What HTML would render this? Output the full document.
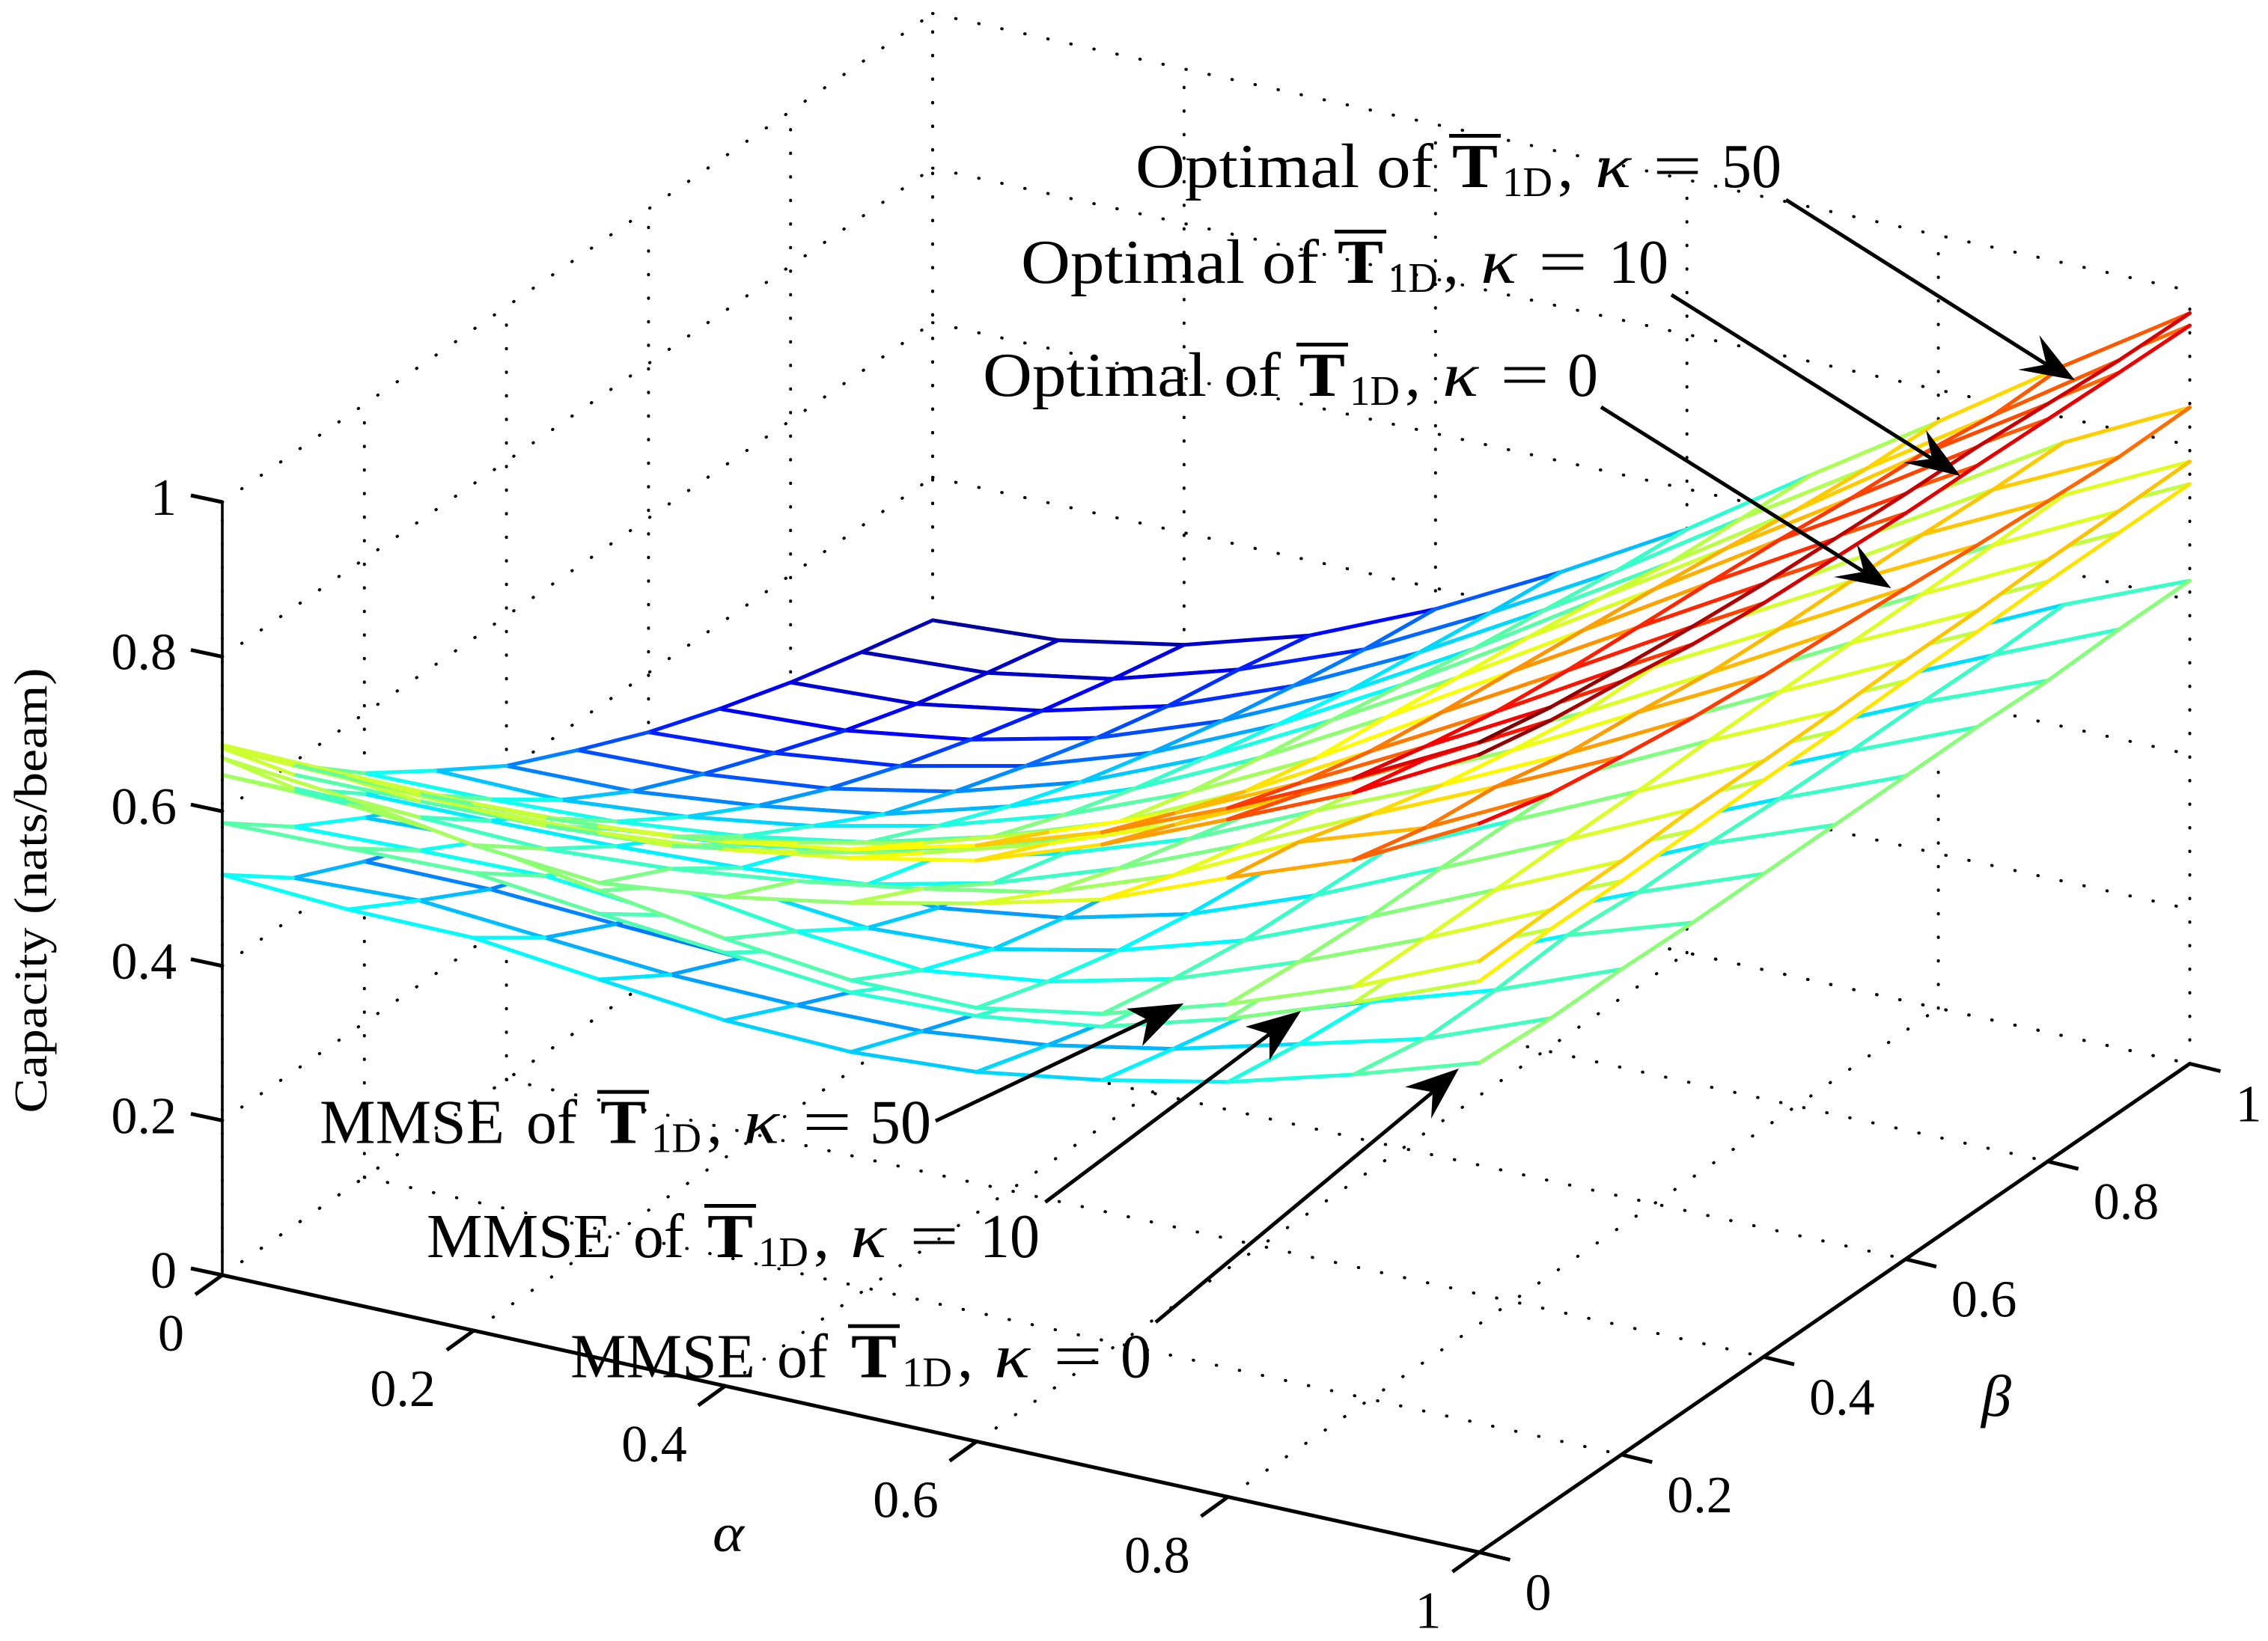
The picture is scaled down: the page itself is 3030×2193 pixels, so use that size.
<!DOCTYPE html>
<html lang="en">
<head>
<meta charset="utf-8">
<title>Capacity surfaces</title>
<style>
html,body{margin:0;padding:0;background:#fff;}
svg{display:block;}
text{font-family:"Liberation Serif","DejaVu Serif",serif;fill:#000;}
.a{font-size:84px;}
.s{font-size:56px;}
.k{font-size:84px;font-style:italic;}
.b{font-size:84px;font-weight:bold;}
.t{font-size:70px;}
</style>
</head>
<body>
<svg id="chart" xmlns="http://www.w3.org/2000/svg" width="3030" height="2193" viewBox="0 0 3030 2193">
<rect x="0" y="0" width="3030" height="2193" fill="#fff"/>
<g id="grid"></g>
<g id="surfaces"></g>
<g id="axes"></g>
<text transform="translate(62,1190) rotate(-90)" text-anchor="middle" font-size="62" textLength="595" lengthAdjust="spacingAndGlyphs">Capacity (nats/beam)</text>
<text x="952" y="2073" font-size="72" font-style="italic" textLength="42" lengthAdjust="spacingAndGlyphs">α</text>
<text x="2647" y="1892" font-size="78" font-style="italic" textLength="40" lengthAdjust="spacingAndGlyphs">β</text>

<g transform="translate(1517,250)">
<text class="a" x="0" y="0" textLength="398" lengthAdjust="spacingAndGlyphs">Optimal of</text>
<text class="b" x="423" y="0" textLength="61" lengthAdjust="spacingAndGlyphs">T</text>
<rect x="419" y="-71" width="69" height="5"/>
<text class="s" x="490" y="12" textLength="67" lengthAdjust="spacingAndGlyphs">1D</text>
<text class="a" x="564" y="0">,</text>
<text class="k" x="614" y="0" textLength="48" lengthAdjust="spacingAndGlyphs">κ</text>
<text class="a" x="691" y="0" textLength="66" lengthAdjust="spacingAndGlyphs">=</text>
<text class="a" x="783" y="0" textLength="80" lengthAdjust="spacingAndGlyphs">50</text>
</g>
<g transform="translate(1364,378)">
<text class="a" x="0" y="0" textLength="398" lengthAdjust="spacingAndGlyphs">Optimal of</text>
<text class="b" x="423" y="0" textLength="61" lengthAdjust="spacingAndGlyphs">T</text>
<rect x="419" y="-71" width="69" height="5"/>
<text class="s" x="490" y="12" textLength="67" lengthAdjust="spacingAndGlyphs">1D</text>
<text class="a" x="564" y="0">,</text>
<text class="k" x="614" y="0" textLength="48" lengthAdjust="spacingAndGlyphs">κ</text>
<text class="a" x="691" y="0" textLength="66" lengthAdjust="spacingAndGlyphs">=</text>
<text class="a" x="785" y="0" textLength="80" lengthAdjust="spacingAndGlyphs">10</text>
</g>
<g transform="translate(1313,529)">
<text class="a" x="0" y="0" textLength="398" lengthAdjust="spacingAndGlyphs">Optimal of</text>
<text class="b" x="423" y="0" textLength="61" lengthAdjust="spacingAndGlyphs">T</text>
<rect x="419" y="-71" width="69" height="5"/>
<text class="s" x="490" y="12" textLength="67" lengthAdjust="spacingAndGlyphs">1D</text>
<text class="a" x="564" y="0">,</text>
<text class="k" x="614" y="0" textLength="48" lengthAdjust="spacingAndGlyphs">κ</text>
<text class="a" x="691" y="0" textLength="66" lengthAdjust="spacingAndGlyphs">=</text>
<text class="a" x="781" y="0" textLength="41" lengthAdjust="spacingAndGlyphs">0</text>
</g>
<g transform="translate(427,1527.7)">
<text class="a" x="0" y="0" textLength="247" lengthAdjust="spacingAndGlyphs">MMSE</text>
<text class="a" x="276" y="0" textLength="68" lengthAdjust="spacingAndGlyphs">of</text>
<text class="b" x="375" y="0" textLength="61" lengthAdjust="spacingAndGlyphs">T</text>
<rect x="371" y="-71" width="69" height="5"/>
<text class="s" x="443" y="12" textLength="67" lengthAdjust="spacingAndGlyphs">1D</text>
<text class="a" x="517" y="0">,</text>
<text class="k" x="566" y="0" textLength="48" lengthAdjust="spacingAndGlyphs">κ</text>
<text class="a" x="645" y="0" textLength="66" lengthAdjust="spacingAndGlyphs">=</text>
<text class="a" x="735" y="0" textLength="82" lengthAdjust="spacingAndGlyphs">50</text>
</g>
<g transform="translate(570,1680)">
<text class="a" x="0" y="0" textLength="247" lengthAdjust="spacingAndGlyphs">MMSE</text>
<text class="a" x="276" y="0" textLength="68" lengthAdjust="spacingAndGlyphs">of</text>
<text class="b" x="375" y="0" textLength="61" lengthAdjust="spacingAndGlyphs">T</text>
<rect x="371" y="-71" width="69" height="5"/>
<text class="s" x="443" y="12" textLength="67" lengthAdjust="spacingAndGlyphs">1D</text>
<text class="a" x="517" y="0">,</text>
<text class="k" x="566" y="0" textLength="48" lengthAdjust="spacingAndGlyphs">κ</text>
<text class="a" x="645" y="0" textLength="66" lengthAdjust="spacingAndGlyphs">=</text>
<text class="a" x="739" y="0" textLength="80" lengthAdjust="spacingAndGlyphs">10</text>
</g>
<g transform="translate(762,1840.7)">
<text class="a" x="0" y="0" textLength="247" lengthAdjust="spacingAndGlyphs">MMSE</text>
<text class="a" x="276" y="0" textLength="68" lengthAdjust="spacingAndGlyphs">of</text>
<text class="b" x="375" y="0" textLength="61" lengthAdjust="spacingAndGlyphs">T</text>
<rect x="371" y="-71" width="69" height="5"/>
<text class="s" x="443" y="12" textLength="67" lengthAdjust="spacingAndGlyphs">1D</text>
<text class="a" x="517" y="0">,</text>
<text class="k" x="566" y="0" textLength="48" lengthAdjust="spacingAndGlyphs">κ</text>
<text class="a" x="645" y="0" textLength="66" lengthAdjust="spacingAndGlyphs">=</text>
<text class="a" x="735" y="0" textLength="41" lengthAdjust="spacingAndGlyphs">0</text>
</g>

<g stroke="#000" stroke-width="5" fill="none">
<g><line x1="2386" y1="267" x2="2734" y2="487"/><polygon fill="#000" stroke="none" points="2772,508 2724.5,448 2734,487 2696,494"/></g>
<g><line x1="2233" y1="394" x2="2581" y2="613"/><polygon fill="#000" stroke="none" points="2619,636 2573,574.5 2581,613 2543,618"/></g>
<g><line x1="2139" y1="544" x2="2490" y2="764"/><polygon fill="#000" stroke="none" points="2526.5,786 2480.5,727 2490,764 2450,771"/></g>
<g><line x1="1250" y1="1498" x2="1533" y2="1363"/><polygon fill="#000" stroke="none" points="1581.4,1341 1505,1348 1533,1363 1526,1398"/></g>
<g><line x1="1396.5" y1="1606.5" x2="1696" y2="1382"/><polygon fill="#000" stroke="none" points="1738,1351 1664,1372 1696,1382 1696,1417"/></g>
<g><line x1="1544" y1="1767" x2="1914" y2="1459.5"/><polygon fill="#000" stroke="none" points="1949,1428 1877,1452.6 1914,1459.5 1912,1495"/></g>
</g>
</svg>
<script>
const alphaValues = [0,0.1,0.2,0.3,0.4,0.5,0.6,0.7,0.8,0.9,1];
const betaValues = [0,0.1,0.2,0.3,0.4,0.5,0.6,0.7,0.8,0.9,1];
const alphaTicks = [0,0.2,0.4,0.6,0.8,1];
const betaTicks = [0,0.2,0.4,0.6,0.8,1];
const capacityTicks = [0,0.2,0.4,0.6,0.8,1];
const alphaTickLabels = ["0","0.2","0.4","0.6","0.8","1"];
const betaTickLabels = ["0","0.2","0.4","0.6","0.8","1"];
const capacityTickLabels = ["0","0.2","0.4","0.6","0.8","1"];

// capacity values: rows = beta, columns = alpha
const mmseKappa0 = [
[.518,.509,.508,.49,.473,.468,.478,.5033,.5368,.5823,.6334],
[.4506,.4574,.445,.433,.4294,.4316,.4495,.4805,.5226,.5653,.6276],
[.4086,.4086,.3994,.3915,.388,.397,.423,.46,.5139,.5652,.628],
[.372,.373,.369,.365,.365,.378,.405,.445,.505,.5726,.625],
[.345,.347,.345,.345,.352,.368,.398,.442,.498,.565,.625],
[.312,.314,.315,.32,.332,.352,.385,.432,.492,.565,.625],
[.282,.285,.29,.298,.315,.34,.375,.425,.49,.56,.625],
[.255,.258,.265,.278,.298,.328,.365,.418,.488,.558,.625],
[.23,.234,.243,.26,.283,.316,.358,.414,.486,.558,.622],
[.208,.214,.225,.243,.27,.305,.35,.41,.484,.556,.625],
[.19,.196,.208,.228,.258,.295,.345,.405,.482,.558,.625]];
const mmseKappa10 = [
[.585,.588,.592,.575,.5604,.545,.5503,.5725,.6185,.675,.739],
[.5168,.522,.525,.51,.5,.495,.515,.553,.612,.673,.743],
[.4653,.472,.473,.465,.452,.458,.492,.54,.603,.672,.742],
[.42,.425,.43,.425,.415,.438,.48,.54,.603,.672,.744],
[.378,.382,.387,.388,.398,.422,.472,.53,.6,.672,.746],
[.34,.345,.35,.358,.378,.412,.462,.525,.598,.672,.746],
[.305,.31,.32,.335,.363,.402,.457,.52,.596,.672,.748],
[.272,.282,.296,.316,.349,.393,.452,.518,.593,.672,.748],
[.248,.258,.272,.3,.335,.384,.447,.515,.593,.672,.75],
[.224,.234,.253,.282,.325,.374,.437,.51,.593,.672,.75],
[.205,.212,.235,.268,.312,.369,.432,.51,.593,.672,.75]];
const mmseKappa50 = [
[.647,.645,.632,.605,.5786,.5607,.561,.589,.6376,.696,.765],
[.564,.559,.5627,.548,.525,.5105,.5317,.571,.629,.695,.768],
[.4954,.497,.4945,.482,.4662,.4746,.5089,.5577,.624,.695,.768],
[.44,.445,.445,.437,.4288,.4518,.4925,.5527,.624,.696,.772],
[.395,.4,.402,.4,.41,.435,.482,.548,.622,.696,.771],
[.355,.36,.365,.375,.395,.43,.48,.545,.62,.698,.772],
[.32,.325,.335,.35,.38,.42,.475,.54,.618,.698,.775],
[.285,.295,.31,.33,.365,.41,.47,.538,.615,.698,.775],
[.26,.27,.285,.315,.35,.4,.465,.535,.615,.698,.778],
[.235,.245,.265,.295,.34,.39,.455,.53,.615,.698,.778],
[.21,.22,.245,.28,.325,.385,.45,.53,.615,.7,.779]];
const optimalKappa0 = [
[.669,.653,.628,.615,.633,.661,.696,.737,.801,.86,.943],
[.567,.565,.56,.57,.59,.616,.647,.705,.784,.838,.918],
[.496,.497,.5,.508,.5225,.56,.615,.682,.756,.828,.903],
[.44,.445,.45,.47,.495,.535,.59,.662,.731,.8075,.89],
[.395,.4,.405,.43,.46,.505,.565,.64,.7127,.798,.881],
[.355,.36,.367,.39,.43,.48,.545,.625,.698,.785,.875],
[.32,.325,.335,.36,.4,.46,.53,.61,.695,.78,.868],
[.285,.295,.31,.33,.375,.44,.515,.6,.69,.778,.86],
[.26,.27,.285,.315,.355,.42,.5,.585,.68,.775,.854],
[.235,.245,.265,.295,.34,.405,.485,.575,.675,.77,.848],
[.21,.22,.245,.28,.325,.39,.47,.56,.67,.768,.849]];
const optimalKappa10 = [
[.682,.678,.675,.68,.694,.719,.7515,.808,.8765,.947,1.032],
[.5845,.586,.59,.6,.628,.662,.71,.77,.845,.9265,1.013],
[.516,.516,.522,.538,.566,.608,.662,.736,.824,.91,1],
[.455,.453,.466,.49,.525,.575,.638,.717,.811,.895,.985],
[.4,.402,.418,.443,.488,.546,.621,.708,.802,.885,.975],
[.356,.361,.378,.41,.457,.524,.606,.696,.792,.88,.97],
[.317,.326,.345,.38,.433,.504,.59,.686,.783,.875,.965],
[.285,.293,.316,.354,.412,.485,.574,.673,.772,.87,.963],
[.256,.264,.291,.332,.394,.472,.561,.657,.76,.865,.96],
[.232,.241,.269,.316,.378,.46,.548,.651,.752,.855,.957],
[.211,.22,.25,.298,.367,.45,.539,.645,.749,.852,.955]];
const optimalKappa50 = [
[.686,.683,.682,.688,.704,.73,.771,.824,.891,.9655,1.048],
[.597,.595,.6,.612,.64,.675,.725,.785,.86,.943,1.03],
[.5228,.525,.532,.549,.577,.62,.675,.75,.838,.925,1.018],
[.463,.461,.475,.499,.535,.585,.65,.73,.825,.915,1.008],
[.406,.409,.426,.451,.497,.556,.632,.72,.815,.908,1],
[.363,.368,.385,.417,.465,.533,.617,.708,.805,.902,.995],
[.323,.332,.351,.387,.44,.512,.6,.697,.795,.895,.99],
[.29,.298,.322,.36,.418,.492,.583,.684,.784,.885,.987],
[.261,.269,.296,.338,.4,.479,.57,.667,.771,.879,.98],
[.237,.246,.274,.322,.384,.467,.557,.661,.762,.866,.973],
[.215,.225,.255,.303,.373,.457,.548,.655,.759,.867,.971]];

const surfaceOrder = [mmseKappa0, mmseKappa10, mmseKappa50, optimalKappa0, optimalKappa10, optimalKappa50];
const surfaceNames = ["mmse-kappa-0","mmse-kappa-10","mmse-kappa-50","optimal-kappa-0","optimal-kappa-10","optimal-kappa-50"];

const SVGNS = "http://www.w3.org/2000/svg";
const colorMin = 0.19, colorMax = 1.048;

function projX(a, b) { return 297 + 1679.5 * a + 949 * b; }
function projY(a, b, z) { return 1704 + 370.5 * a - 653 * b - 1033 * z; }

function jet(v) {
  let t = (v - colorMin) / (colorMax - colorMin);
  t = Math.max(0, Math.min(1, t));
  const r = Math.max(0, Math.min(1, Math.min(4 * t - 1.5, -4 * t + 4.5)));
  const g = Math.max(0, Math.min(1, Math.min(4 * t - 0.5, -4 * t + 3.5)));
  const b = Math.max(0, Math.min(1, Math.min(4 * t + 0.5, -4 * t + 2.5)));
  return "rgb(" + Math.round(r * 255) + "," + Math.round(g * 255) + "," + Math.round(b * 255) + ")";
}

function makeLine(parent, x1, y1, x2, y2, stroke, width) {
  const el = document.createElementNS(SVGNS, "line");
  el.setAttribute("x1", x1.toFixed(1));
  el.setAttribute("y1", y1.toFixed(1));
  el.setAttribute("x2", x2.toFixed(1));
  el.setAttribute("y2", y2.toFixed(1));
  el.setAttribute("stroke", stroke);
  el.setAttribute("stroke-width", width);
  parent.appendChild(el);
  return el;
}

/* dotted grid */
const gridGroup = document.getElementById("grid");
function gridLine(a1, b1, z1, a2, b2, z2) {
  const el = makeLine(gridGroup, projX(a1, b1), projY(a1, b1, z1), projX(a2, b2), projY(a2, b2, z2), "#000", 4);
  el.setAttribute("stroke-dasharray", "0.5 31");
  el.setAttribute("stroke-linecap", "round");
  
  
}
betaTicks.forEach(function (b) {
  gridLine(0, b, 0, 1, b, 0);
  gridLine(0, b, 0, 0, b, 1);
});
alphaTicks.forEach(function (a) {
  gridLine(a, 0, 0, a, 1, 0);
  gridLine(a, 1, 0, a, 1, 1);
});
capacityTicks.forEach(function (z) {
  gridLine(0, 0, z, 0, 1, z);
  gridLine(0, 1, z, 1, 1, z);
});

/* mesh surfaces */
const surfaceRoot = document.getElementById("surfaces");
surfaceOrder.forEach(function (grid, s) {
  const g = document.createElementNS(SVGNS, "g");
  
  
  surfaceRoot.appendChild(g);
  for (let j = betaValues.length - 2; j >= 0; j--) {
    for (let i = 0; i < alphaValues.length - 1; i++) {
      const a0 = alphaValues[i], a1 = alphaValues[i + 1];
      const b0 = betaValues[j], b1 = betaValues[j + 1];
      const corners = [[a0, b0, grid[j][i]], [a1, b0, grid[j][i + 1]], [a1, b1, grid[j + 1][i + 1]], [a0, b1, grid[j + 1][i]]];
      const pts = corners.map(function (c) { return [projX(c[0], c[1]), projY(c[0], c[1], c[2])]; });
      const face = document.createElementNS(SVGNS, "polygon");
      face.setAttribute("points", pts.map(function (p) { return p[0].toFixed(1) + "," + p[1].toFixed(1); }).join(" "));
      face.setAttribute("fill", "#fff");
      
      
      g.appendChild(face);
      const edges = [
        [pts[0], pts[1], grid[j][i]],
        [pts[3], pts[2], grid[j + 1][i]],
        [pts[0], pts[3], grid[j][i]],
        [pts[1], pts[2], grid[j][i + 1]]
      ];
      edges.forEach(function (e) {
        const ln = makeLine(g, e[0][0], e[0][1], e[1][0], e[1][1], jet(e[2]), 5);
        ln.setAttribute("stroke-linecap", "round");
        
        
      });
    }
  }
});

/* axes, ticks, tick labels */
const axesGroup = document.getElementById("axes");
function axisLine(x1, y1, x2, y2, name, w) {
  const el = makeLine(axesGroup, x1, y1, x2, y2, "#000", w);
  
  
}
function tickText(x, y, anchor, str, name) {
  const t = document.createElementNS(SVGNS, "text");
  t.setAttribute("x", x.toFixed(1));
  t.setAttribute("y", y.toFixed(1));
  t.setAttribute("text-anchor", anchor);
  t.setAttribute("class", "t");
  
  
  t.textContent = str;
  axesGroup.appendChild(t);
}
axisLine(projX(0, 0), projY(0, 0, 0), projX(0, 0), projY(0, 0, 1), "z-axis-line", 3.6);
axisLine(projX(0, 0), projY(0, 0, 0), projX(1, 0), projY(1, 0, 0), "alpha-axis-line", 5);
axisLine(projX(1, 0), projY(1, 0, 0), projX(1, 1), projY(1, 1, 0), "beta-axis-line", 5);
capacityTicks.forEach(function (z, i) {
  const x = projX(0, 0), y = projY(0, 0, z);
  axisLine(x, y, x - 42, y - 9, "z-tick", 5);
  tickText(x - 61, y + 17, "end", capacityTickLabels[i], "z-tick-label");
});
alphaTicks.forEach(function (a, i) {
  const x = projX(a, 0), y = projY(a, 0, 0);
  axisLine(x, y, x - 36, y + 26, "alpha-tick", 5);
  tickText(x - 51, y + 101, "end", alphaTickLabels[i], "alpha-tick-label");
});
betaTicks.forEach(function (b, i) {
  const x = projX(1, b), y = projY(1, b, 0);
  axisLine(x, y, x + 41, y + 10, "beta-tick", 5);
  tickText(x + 61, y + 77, "start", betaTickLabels[i], "beta-tick-label");
});
</script>
</body>
</html>
